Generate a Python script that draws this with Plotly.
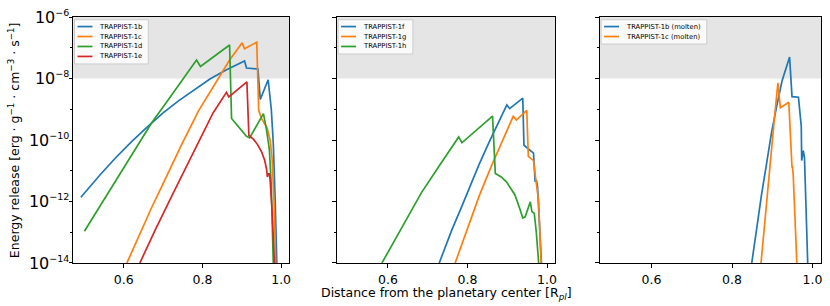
import numpy as np
import plotly.graph_objects as go

# ---------------- data (x = r / R_pl, values stored as log10 of energy release) -------------
# Panel 1
b_x = [0.491, 0.50, 0.54, 0.58, 0.62, 0.66, 0.70, 0.74, 0.78, 0.82, 0.86, 0.907, 0.912,
       0.941, 0.947, 0.967, 0.975, 0.980, 0.985, 0.989]
b_log = [-11.86, -11.72, -11.13, -10.57, -10.05, -9.57, -9.12, -8.72, -8.35, -8.01, -7.72, -7.43, -7.66,
         -7.69, -8.68, -8.04, -9.0, -10.1, -12.0, -14.0]

c_x = [0.608, 0.64, 0.67, 0.70, 0.726, 0.747, 0.79, 0.840, 0.869, 0.901, 0.907, 0.938, 0.943,
       0.950, 0.964, 0.972, 0.977, 0.982, 0.986]
c_log = [-14.0, -13.08, -12.22, -11.42, -10.7, -10.15, -9.05, -8.0, -7.40, -6.84, -7.03, -6.82, -9.04,
         -9.3, -9.6, -10.0, -10.6, -12.0, -14.0]

d_x = [0.500, 0.557, 0.61, 0.671, 0.71, 0.743, 0.785, 0.795, 0.83, 0.869, 0.874, 0.893, 0.912,
       0.920, 0.955, 0.962, 0.970, 0.975, 0.980]
d_log = [-12.97, -11.78, -10.7, -9.44, -8.75, -8.17, -7.40, -7.61, -7.28, -6.91, -9.30, -9.6, -9.88,
         -9.93, -9.14, -9.6, -10.3, -11.5, -14.0]

e_x = [0.641, 0.68, 0.726, 0.755, 0.785, 0.827, 0.861, 0.867, 0.913, 0.918, 0.930, 0.940, 0.950,
       0.958, 0.963, 0.965, 0.967, 0.970, 0.972, 0.977, 0.983]
e_log = [-14.0, -12.92, -11.72, -10.97, -10.2, -9.12, -8.45, -8.6, -8.11, -9.85, -9.98, -10.15, -10.38,
         -10.65, -10.95, -11.2, -11.1, -11.1, -11.3, -12.3, -14.0]

# Panel 2
f_x = [0.729, 0.76, 0.786, 0.81, 0.829, 0.855, 0.88, 0.899, 0.906, 0.939, 0.942, 0.966, 0.970,
       0.973, 0.976, 0.981, 0.986]
f_log = [-14.0, -12.95, -12.15, -11.4, -10.8, -10.05, -9.38, -8.86, -8.98, -8.64, -10.17, -10.43, -11.36,
         -11.3, -11.5, -12.6, -14.0]

g_x = [0.769, 0.80, 0.83, 0.86, 0.89, 0.915, 0.923, 0.949, 0.953, 0.966, 0.972, 0.979, 0.985]
g_log = [-14.0, -12.85, -11.8, -10.85, -9.98, -9.23, -9.35, -9.04, -10.53, -10.67, -11.3, -12.0, -14.0]

h_x = [0.585, 0.63, 0.684, 0.73, 0.778, 0.786, 0.825, 0.863, 0.870, 0.885, 0.898, 0.919, 0.932,
       0.939, 0.945, 0.952, 0.958, 0.962, 0.968, 0.973, 0.979]
h_log = [-14.0, -12.95, -11.72, -10.82, -9.90, -10.09, -9.65, -9.22, -11.09, -11.2, -11.36, -11.78, -12.25,
         -12.54, -12.5, -12.25, -12.01, -12.33, -12.39, -13.0, -14.0]

# Panel 3 (molten)
bm_x = [0.849, 0.861, 0.873, 0.886, 0.898, 0.911, 0.924, 0.943, 0.949, 0.965, 0.972, 0.973,
        0.977, 0.980, 0.988]
bm_log = [-14.0, -12.85, -11.8, -10.75, -9.77, -8.9, -8.09, -7.30, -8.59, -8.61, -9.56, -10.67,
          -10.35, -10.57, -14.0]

cm_x = [0.872, 0.885, 0.897, 0.906, 0.914, 0.920, 0.941, 0.949, 0.950, 0.952, 0.961]
cm_log = [-14.0, -12.1, -10.45, -9.2, -8.14, -8.95, -8.77, -10.9, -10.85, -11.15, -14.0]

x_ticks = [0.6, 0.8, 1.0]
y_ticks = [1e-14, 1e-12, 1e-10, 1e-8, 1e-6]
y_exponents = ["−14", "−12", "−10", "−8", "−6"]
shade_low, shade_high = 1e-8, 1e-6

# ---------------- styling ----------------
BLUE, ORANGE, GREEN, RED = "#1f77b4", "#ff7f0e", "#2ca02c", "#d62728"
FONT = "DejaVu Sans"
W, H = 830, 306
ML, MR, MT, MB = 73, 7, 11, 43
PW, PH = W - ML - MR, H - MT - MB

y_ticktext = ["10<sup><span style='font-size:9.5px'>%s</span></sup>" % e for e in y_exponents]

panels = [
    ("x", "y", [("TRAPPIST-1b", b_x, b_log, BLUE), ("TRAPPIST-1c", c_x, c_log, ORANGE),
                ("TRAPPIST-1d", d_x, d_log, GREEN), ("TRAPPIST-1e", e_x, e_log, RED)], 74),
    ("x2", "y2", [("TRAPPIST-1f", f_x, f_log, BLUE), ("TRAPPIST-1g", g_x, g_log, ORANGE),
                  ("TRAPPIST-1h", h_x, h_log, GREEN)], 75),
    ("x3", "y3", [("TRAPPIST-1b (molten)", bm_x, bm_log, BLUE),
                  ("TRAPPIST-1c (molten)", cm_x, cm_log, ORANGE)], 106),
]

fig = go.Figure()
for xa, ya, series, _ in panels:
    for name, xs, ls, col in series:
        fig.add_trace(go.Scatter(x=xs, y=np.power(10.0, ls), mode="lines", name=name,
                                 line=dict(color=col, width=1.7), xaxis=xa, yaxis=ya,
                                 showlegend=False))

domains = [[0.0, 0.2893], [0.3524, 0.6449], [0.704, 1.0]]
xr = [0.471, 1.021]
common_x = dict(range=xr, tickvals=x_ticks, tickformat=".1f", ticks="outside", ticklen=3.5,
                tickwidth=1, tickcolor="black", showline=True, mirror=True, linecolor="black",
                linewidth=1, showgrid=False, zeroline=False, ticklabelstandoff=1,
                tickfont=dict(family=FONT, size=12.5, color="black"))
minor_vals = [1e-13, 1e-11, 1e-9, 1e-7]
common_y = dict(type="log", range=[-14.001, -5.999], tickvals=y_ticks, ticktext=y_ticktext,
                ticks="outside", ticklen=3.5, tickwidth=1, tickcolor="black", showline=True,
                mirror=True, linecolor="black", linewidth=1, showgrid=False, zeroline=False,
                ticklabeloverflow="allow", ticklabelstandoff=-4,
                minor=dict(tickvals=minor_vals, ticks="outside", ticklen=2, tickcolor="black",
                           showgrid=False),
                tickfont=dict(family=FONT, size=16, color="black"))

layout = dict(width=W, height=H, margin=dict(l=ML, r=MR, t=MT, b=MB),
              plot_bgcolor="white", paper_bgcolor="white", showlegend=False,
              font=dict(family=FONT, color="black"))
for i, (xa, ya, _, _) in enumerate(panels):
    sfx = "" if i == 0 else str(i + 1)
    layout["xaxis" + sfx] = dict(common_x, domain=domains[i], anchor=ya)
    yd = dict(common_y, domain=[0, 1], anchor=xa)
    if i > 0:
        yd["matches"] = "y"
        yd["showticklabels"] = False
    layout["yaxis" + sfx] = yd
fig.update_layout(**layout)

# shaded region above 1e-8
for xa, ya, _, _ in panels:
    fig.add_shape(type="rect", xref=xa + " domain", yref=ya, x0=0, x1=1, y0=shade_low, y1=shade_high,
                  fillcolor="#e5e5e5", line=dict(width=0), layer="below")

# matplotlib-style legends (compact), drawn in axis-domain coordinates
ROW = 10.2
for i, (xa, ya, series, boxw) in enumerate(panels):
    pw = (domains[i][1] - domains[i][0]) * PW
    fx = lambda px: px / pw
    fy = lambda py: 1 - py / PH
    top = 2.8
    boxh = len(series) * ROW + 4.5
    fig.add_shape(type="rect", xref=xa + " domain", yref=ya + " domain",
                  x0=fx(1.5), x1=fx(1.5 + boxw), y0=fy(top), y1=fy(top + boxh),
                  fillcolor="rgba(255,255,255,0.8)", line=dict(color="#cccccc", width=1))
    for k, (name, _, _, col) in enumerate(series):
        yc = top + 7 + k * ROW
        fig.add_shape(type="line", xref=xa + " domain", yref=ya + " domain",
                      x0=fx(4.5), x1=fx(19.5), y0=fy(yc), y1=fy(yc),
                      line=dict(color=col, width=1.7))
        fig.add_annotation(text=name, xref=xa + " domain", yref=ya + " domain",
                           x=fx(24.5), y=fy(yc), xanchor="left", yanchor="middle",
                           showarrow=False, font=dict(family=FONT, size=6.8, color="black"))

fig.add_annotation(text="Distance from the planetary center [R<sub><i>pl</i></sub>]",
                   xref="paper", yref="paper", x=0.4987, y=-0.126, xanchor="center", yanchor="middle",
                   showarrow=False, font=dict(family=FONT, size=12.5, color="black"))
fig.add_annotation(text="Energy release [erg · g<sup>−1</sup> · cm<sup>−3</sup> · s<sup>−1</sup>]",
                   xref="paper", yref="paper", x=-0.0787, y=0.5, xanchor="center", yanchor="middle",
                   textangle=-90, showarrow=False, font=dict(family=FONT, size=12.5, color="black"))

fig.write_html("out.html", config={"displayModeBar": False},
               post_script="document.body.style.margin='0px';")
